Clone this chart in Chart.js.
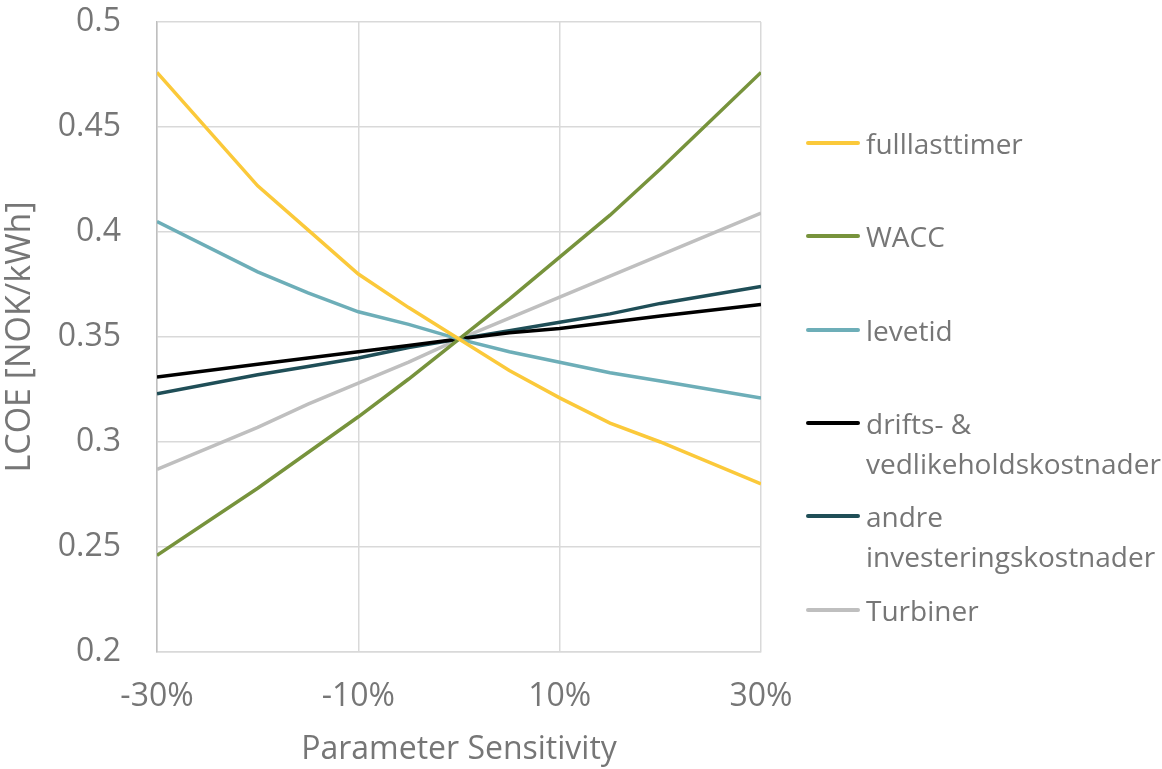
<!DOCTYPE html>
<html>
<head>
<meta charset="utf-8">
<script src="https://cdn.jsdelivr.net/npm/chart.js@4/dist/chart.umd.min.js"></script>
<style>
  html, body { margin: 0; padding: 0; background: #ffffff; }
  #wrap { position: relative; width: 1162px; height: 769px; overflow: hidden; }
  #chart { position: absolute; left: 0; top: 0; }
  #legend { position: absolute; left: 0; top: 0; width: 1162px; height: 769px; pointer-events: none;
            font-family: "Open Sans", sans-serif; font-size: 28px; color: #767676; }
  .item { position: absolute; left: 806px; display: flex; align-items: flex-start; }
  .swatch { width: 54px; height: 4px; border-radius: 2px; margin-top: 18px; flex: none; }
  .txt { margin-left: 6px; width: 296px; line-height: 40px; }
</style>
</head>
<body>
<div id="wrap">
  <canvas id="chart" width="1162" height="769"></canvas>
  <div id="legend"></div>
</div>
<script>
// Sensitivity steps (% change of each parameter)
const sensitivity = [-30, -20, -15, -10, -5, 0, 5, 10, 15, 20, 30];

// LCOE [NOK/kWh] for each parameter
const fulllasttimer = [0.476, 0.422, 0.401, 0.380, 0.364, 0.349, 0.334, 0.321, 0.309, 0.300, 0.280];
const wacc          = [0.246, 0.278, 0.295, 0.312, 0.330, 0.349, 0.368, 0.388, 0.408, 0.430, 0.476];
const levetid       = [0.405, 0.381, 0.371, 0.362, 0.356, 0.349, 0.343, 0.338, 0.333, 0.329, 0.321];
const driftsVedlikehold = [0.331, 0.337, 0.340, 0.343, 0.346, 0.349, 0.352, 0.354, 0.357, 0.360, 0.3655];
const andreInvestering  = [0.323, 0.332, 0.336, 0.340, 0.345, 0.349, 0.353, 0.357, 0.361, 0.366, 0.374];
const turbiner      = [0.287, 0.307, 0.318, 0.328, 0.338, 0.349, 0.359, 0.369, 0.379, 0.389, 0.409];

const seriesNames = ['fulllasttimer', 'WACC', 'levetid', 'drifts- & vedlikeholdskostnader',
                     'andre investeringskostnader', 'Turbiner'];
const seriesValues = [fulllasttimer, wacc, levetid, driftsVedlikehold, andreInvestering, turbiner];
const seriesColors = ['#FBC93A', '#77933C', '#6DAEB8', '#000000', '#1F4E57', '#BFBFBF'];

const yTicks = [0.2, 0.25, 0.3, 0.35, 0.4, 0.45, 0.5];
const xTicks = [-30, -10, 10, 30];

const textColor = '#767676';
const gridColor = '#D9D9D9';

const datasets = seriesNames.map((name, i) => ({
  label: name,
  data: sensitivity.map((x, j) => ({ x: x, y: seriesValues[i][j] })),
  borderColor: seriesColors[i],
  backgroundColor: seriesColors[i],
  borderWidth: 3.5,
  pointRadius: 0,
  tension: 0,
  fill: false
}));

new Chart(document.getElementById('chart'), {
  type: 'line',
  data: { datasets: datasets },
  options: {
    responsive: false,
    animation: false,
    events: [],
    layout: { padding: { top: 22, right: 401, left: 0, bottom: 0 } },
    plugins: { legend: { display: false }, tooltip: { enabled: false } },
    scales: {
      x: {
        type: 'linear',
        min: -30, max: 30,
        afterBuildTicks: (axis) => { axis.ticks = xTicks.map(v => ({ value: v })); },
        afterFit: (axis) => { axis.height = 117; axis.paddingLeft = 0; axis.paddingRight = 0; },
        grid: { color: gridColor, lineWidth: 1.5, drawTicks: false },
        border: { color: gridColor, width: 1.5 },
        ticks: {
          padding: 26, color: textColor, maxRotation: 0,
          font: { family: 'Open Sans', size: 32 },
          callback: (v) => v + '%'
        },
        title: {
          display: true, text: 'Parameter Sensitivity', color: textColor,
          font: { family: 'Open Sans', size: 32 }, padding: { top: 6, bottom: 0 }
        }
      },
      y: {
        min: 0.2, max: 0.5,
        afterBuildTicks: (axis) => { axis.ticks = yTicks.map(v => ({ value: v })); },
        afterFit: (axis) => { axis.width = 157; axis.paddingTop = 0; axis.paddingBottom = 0; },
        grid: { color: gridColor, lineWidth: 1.5, drawTicks: false },
        border: { color: '#BFBFBF', width: 1.5 },
        ticks: {
          padding: 36, color: textColor,
          font: { family: 'Open Sans', size: 32 },
          callback: (v) => String(+v.toFixed(2))
        },
        title: {
          display: true, text: 'LCOE [NOK/kWh]', color: textColor,
          font: { family: 'Open Sans', size: 34 }, padding: { top: 0, bottom: 0 }
        }
      }
    }
  }
});

// Legend on the right, one entry per series
const legend = document.getElementById('legend');
seriesNames.forEach((name, i) => {
  const item = document.createElement('div');
  item.className = 'item';
  item.style.top = (123 + i * 93.3) + 'px';
  const sw = document.createElement('div');
  sw.className = 'swatch';
  sw.style.background = seriesColors[i];
  const t = document.createElement('div');
  t.className = 'txt';
  t.textContent = name;
  item.appendChild(sw);
  item.appendChild(t);
  legend.appendChild(item);
});
</script>
</body>
</html>
